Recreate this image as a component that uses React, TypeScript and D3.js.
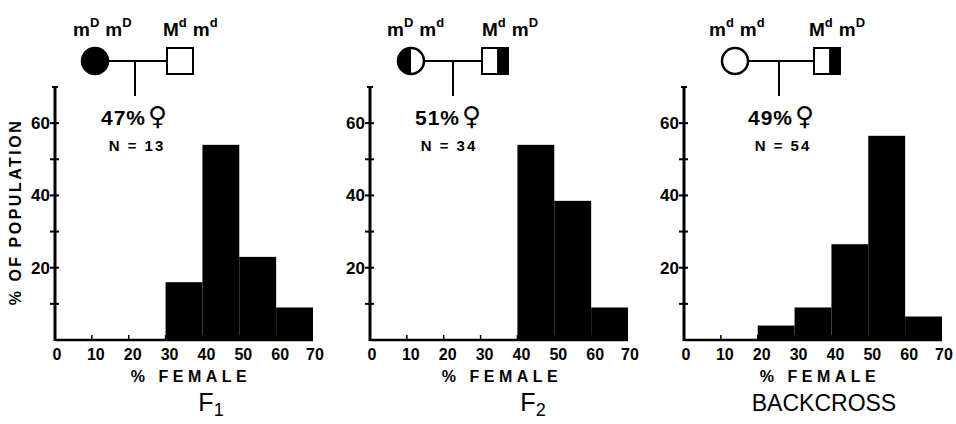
import React from "react";
import * as d3 from "d3";

// histogram bins (% female in a litter), lower edges
const binStarts = [0, 10, 20, 30, 40, 50, 60];
const binWidth = 10;

// % of population per bin
const f1Values = [0, 0, 0, 16, 54, 23, 9];
const f2Values = [0, 0, 0, 0, 54, 38.5, 9];
const backcrossValues = [0, 0, 4, 9, 26.5, 56.5, 6.5];

const xTicks = [0, 10, 20, 30, 40, 50, 60, 70];
const yTicks = [10, 20, 30, 40, 50, 60];
const yTickLabels = [20, 40, 60];

const panelTitles = ["F", "F", "BACKCROSS"];
const panelTitleSubs = ["1", "2", ""];
const femaleGenotypes = [["D", "D"], ["D", "d"], ["d", "d"]];
const maleGenotypes = [["d", "d"], ["d", "D"], ["d", "D"]];
const femaleFill = ["full", "half", "none"];
const maleFill = ["none", "half", "half"];
const percentFemale = ["47%", "51%", "49%"];
const litterCounts = ["N = 13", "N = 34", "N = 54"];

const layout = [
  { x0: 55, circle: 40, square: 112, drop: 80, pct: 79, n: 82, fLab: 18, mLab: 108, title: 156, xlab: 136 },
  { x0: 370, circle: 41, square: 112, drop: 83, pct: 78, n: 79, fLab: 17, mLab: 112, title: 163, xlab: 132 },
  { x0: 684, circle: 51, square: 130, drop: 95, pct: 97, n: 99, fLab: 25, mLab: 125, title: 140, xlab: 136 },
];

const font = "'Liberation Sans', Arial, sans-serif";
const plotWidth = 258;
const yBase = 340;
const yTop = 87;

class BreedingHistograms extends React.Component<any> {
  svg: SVGSVGElement | null = null;

  componentDidMount() {
    this.drawChart();
  }

  shouldComponentUpdate() {
    return false;
  }

  drawChart() {
    let root = d3.select(this.svg);
    root.selectAll("*").remove();

    let allValues = [f1Values, f2Values, backcrossValues];

    let y = d3.scaleLinear().domain([0, 70]).range([yBase, yTop]);

    // rotated y label, only on the first panel
    root.append("text")
      .attr("transform", "translate(21," + 212 + ") rotate(-90)")
      .attr("text-anchor", "middle")
      .style("font-family", font)
      .style("font-weight", "bold")
      .style("font-size", "16px")
      .style("letter-spacing", "2.5px")
      .text("% OF POPULATION");

    allValues.forEach(function(values, i) {
      let L = layout[i];
      let x = d3.scaleLinear().domain([0, 70]).range([L.x0, L.x0 + plotWidth]);
      let g = root.append("g");

      // bars
      g.selectAll(".bar")
        .data(binStarts.map(function(b, j) { return { start: b, value: values[j] }; })
          .filter(function(d) { return d.value > 0; }))
        .enter().append("rect")
        .attr("class", "bar")
        .attr("x", function(d) { return x(d.start); })
        .attr("width", function(d) { return x(d.start + binWidth) - x(d.start); })
        .attr("y", function(d) { return y(d.value); })
        .attr("height", function(d) { return y(0) - y(d.value); })
        .attr("fill", "#000");

      // x axis baseline + small ticks
      g.append("line")
        .attr("x1", x(0)).attr("x2", x(70))
        .attr("y1", y(0)).attr("y2", y(0))
        .attr("stroke", "#000").attr("stroke-width", 2.5);
      g.selectAll(".xtick")
        .data(xTicks.slice(1, -1))
        .enter().append("line")
        .attr("x1", function(d) { return x(d); })
        .attr("x2", function(d) { return x(d); })
        .attr("y1", y(0)).attr("y2", y(0) - 5)
        .attr("stroke", "#000").attr("stroke-width", 1.5);
      g.selectAll(".xlabel")
        .data(xTicks)
        .enter().append("text")
        .attr("x", function(d, k) { return x(d) + (k === 0 || k === xTicks.length - 1 ? 2 : 4); })
        .attr("y", 360)
        .attr("text-anchor", "middle")
        .style("font-family", font)
        .style("font-weight", "bold")
        .style("font-size", "16px")
        .text(function(d) { return d; });

      g.append("text")
        .attr("x", L.x0 + L.xlab)
        .attr("y", 382)
        .attr("text-anchor", "middle")
        .style("font-family", font)
        .style("font-weight", "bold")
        .style("font-size", "16px")
        .style("letter-spacing", "4.5px")
        .text("% FEMALE");

      // y axis
      g.append("line")
        .attr("x1", x(0)).attr("x2", x(0))
        .attr("y1", y(0) + 1).attr("y2", y(70))
        .attr("stroke", "#000").attr("stroke-width", 3);
      g.append("line")
        .attr("x1", x(0) - 3).attr("x2", x(0) + 3)
        .attr("y1", y(70)).attr("y2", y(70))
        .attr("stroke", "#000").attr("stroke-width", 2);
      g.selectAll(".ytick")
        .data(yTicks)
        .enter().append("line")
        .attr("x1", x(0) - 5).attr("x2", x(0) + 4)
        .attr("y1", function(d) { return y(d); })
        .attr("y2", function(d) { return y(d); })
        .attr("stroke", "#000").attr("stroke-width", 2);
      g.selectAll(".ylabel")
        .data(yTickLabels)
        .enter().append("text")
        .attr("x", x(0) - 5)
        .attr("y", function(d) { return y(d) + 6; })
        .attr("text-anchor", "end")
        .style("font-family", font)
        .style("font-weight", "bold")
        .style("font-size", "17px")
        .text(function(d) { return d; });

      // pedigree
      let cy = 61;
      let cx = L.x0 + L.circle;
      let r = 13;
      let sx = L.x0 + L.square;
      let side = 26;
      let dropX = L.x0 + L.drop;

      g.append("line")
        .attr("x1", cx + r).attr("x2", sx)
        .attr("y1", cy).attr("y2", cy)
        .attr("stroke", "#000").attr("stroke-width", 2);
      g.append("line")
        .attr("x1", dropX).attr("x2", dropX)
        .attr("y1", cy).attr("y2", 96)
        .attr("stroke", "#000").attr("stroke-width", 2);

      g.append("circle")
        .attr("cx", cx).attr("cy", cy).attr("r", r)
        .attr("fill", femaleFill[i] === "full" ? "#000" : "#fff")
        .attr("stroke", "#000").attr("stroke-width", 2.5);
      if (femaleFill[i] === "half") {
        g.append("path")
          .attr("d", "M" + cx + "," + (cy - r) + " A" + r + "," + r + " 0 0 0 " + cx + "," + (cy + r) + " Z")
          .attr("fill", "#000");
      }

      g.append("rect")
        .attr("x", sx).attr("y", cy - side / 2)
        .attr("width", side).attr("height", side)
        .attr("fill", "#fff")
        .attr("stroke", "#000").attr("stroke-width", 2);
      if (maleFill[i] === "half") {
        g.append("rect")
          .attr("x", sx + side * 0.58).attr("y", cy - side / 2)
          .attr("width", side * 0.42).attr("height", side)
          .attr("fill", "#000");
      }

      // genotype labels
      function genotype(left: number, big: string[], sup: string[]) {
        let t = g.append("text")
          .attr("x", left)
          .attr("y", 36)
          .style("font-family", font)
          .style("font-weight", "bold")
          .style("font-size", "19px");
        t.append("tspan").text(big[0]);
        t.append("tspan").attr("dy", -9).style("font-size", "13px").text(sup[0]);
        t.append("tspan").attr("dy", 9).attr("dx", 6).text(big[1]);
        t.append("tspan").attr("dy", -9).style("font-size", "13px").text(sup[1]);
      }
      genotype(L.x0 + L.fLab, ["m", "m"], femaleGenotypes[i]);
      genotype(L.x0 + L.mLab, ["M", "m"], maleGenotypes[i]);

      // % female and N
      let pct = g.append("text")
        .attr("x", L.x0 + L.pct)
        .attr("y", 125)
        .attr("text-anchor", "middle")
        .style("font-family", font)
        .style("font-weight", "bold")
        .style("font-size", "21px");
      pct.append("tspan").style("letter-spacing", "1px").text(percentFemale[i]);
      pct.append("tspan")
        .attr("dx", 2)
        .style("font-family", "'DejaVu Sans', sans-serif")
        .style("font-size", "26px")
        .text("\u2640");

      g.append("text")
        .attr("x", L.x0 + L.n)
        .attr("y", 151)
        .attr("text-anchor", "middle")
        .style("font-family", font)
        .style("font-weight", "bold")
        .style("font-size", "15px")
        .style("letter-spacing", "2px")
        .text(litterCounts[i]);

      // panel title
      let title = g.append("text")
        .attr("x", L.x0 + L.title)
        .attr("y", 411)
        .attr("text-anchor", "middle")
        .style("font-family", font)
        .style("font-size", panelTitleSubs[i] ? "25px" : "23px");
      title.append("tspan").text(panelTitles[i]);
      if (panelTitleSubs[i]) {
        title.append("tspan")
          .attr("dy", 5)
          .style("font-size", "18px")
          .text(panelTitleSubs[i]);
      }
    });
  }

  render() {
    return (
      <svg
        width={956}
        height={424}
        style={{ position: "absolute", left: 0, top: 0, background: "#fff" }}
        ref={(elem) => { this.svg = elem; }}
      ></svg>
    );
  }
}

export default function App() {
  return <BreedingHistograms />;
}
